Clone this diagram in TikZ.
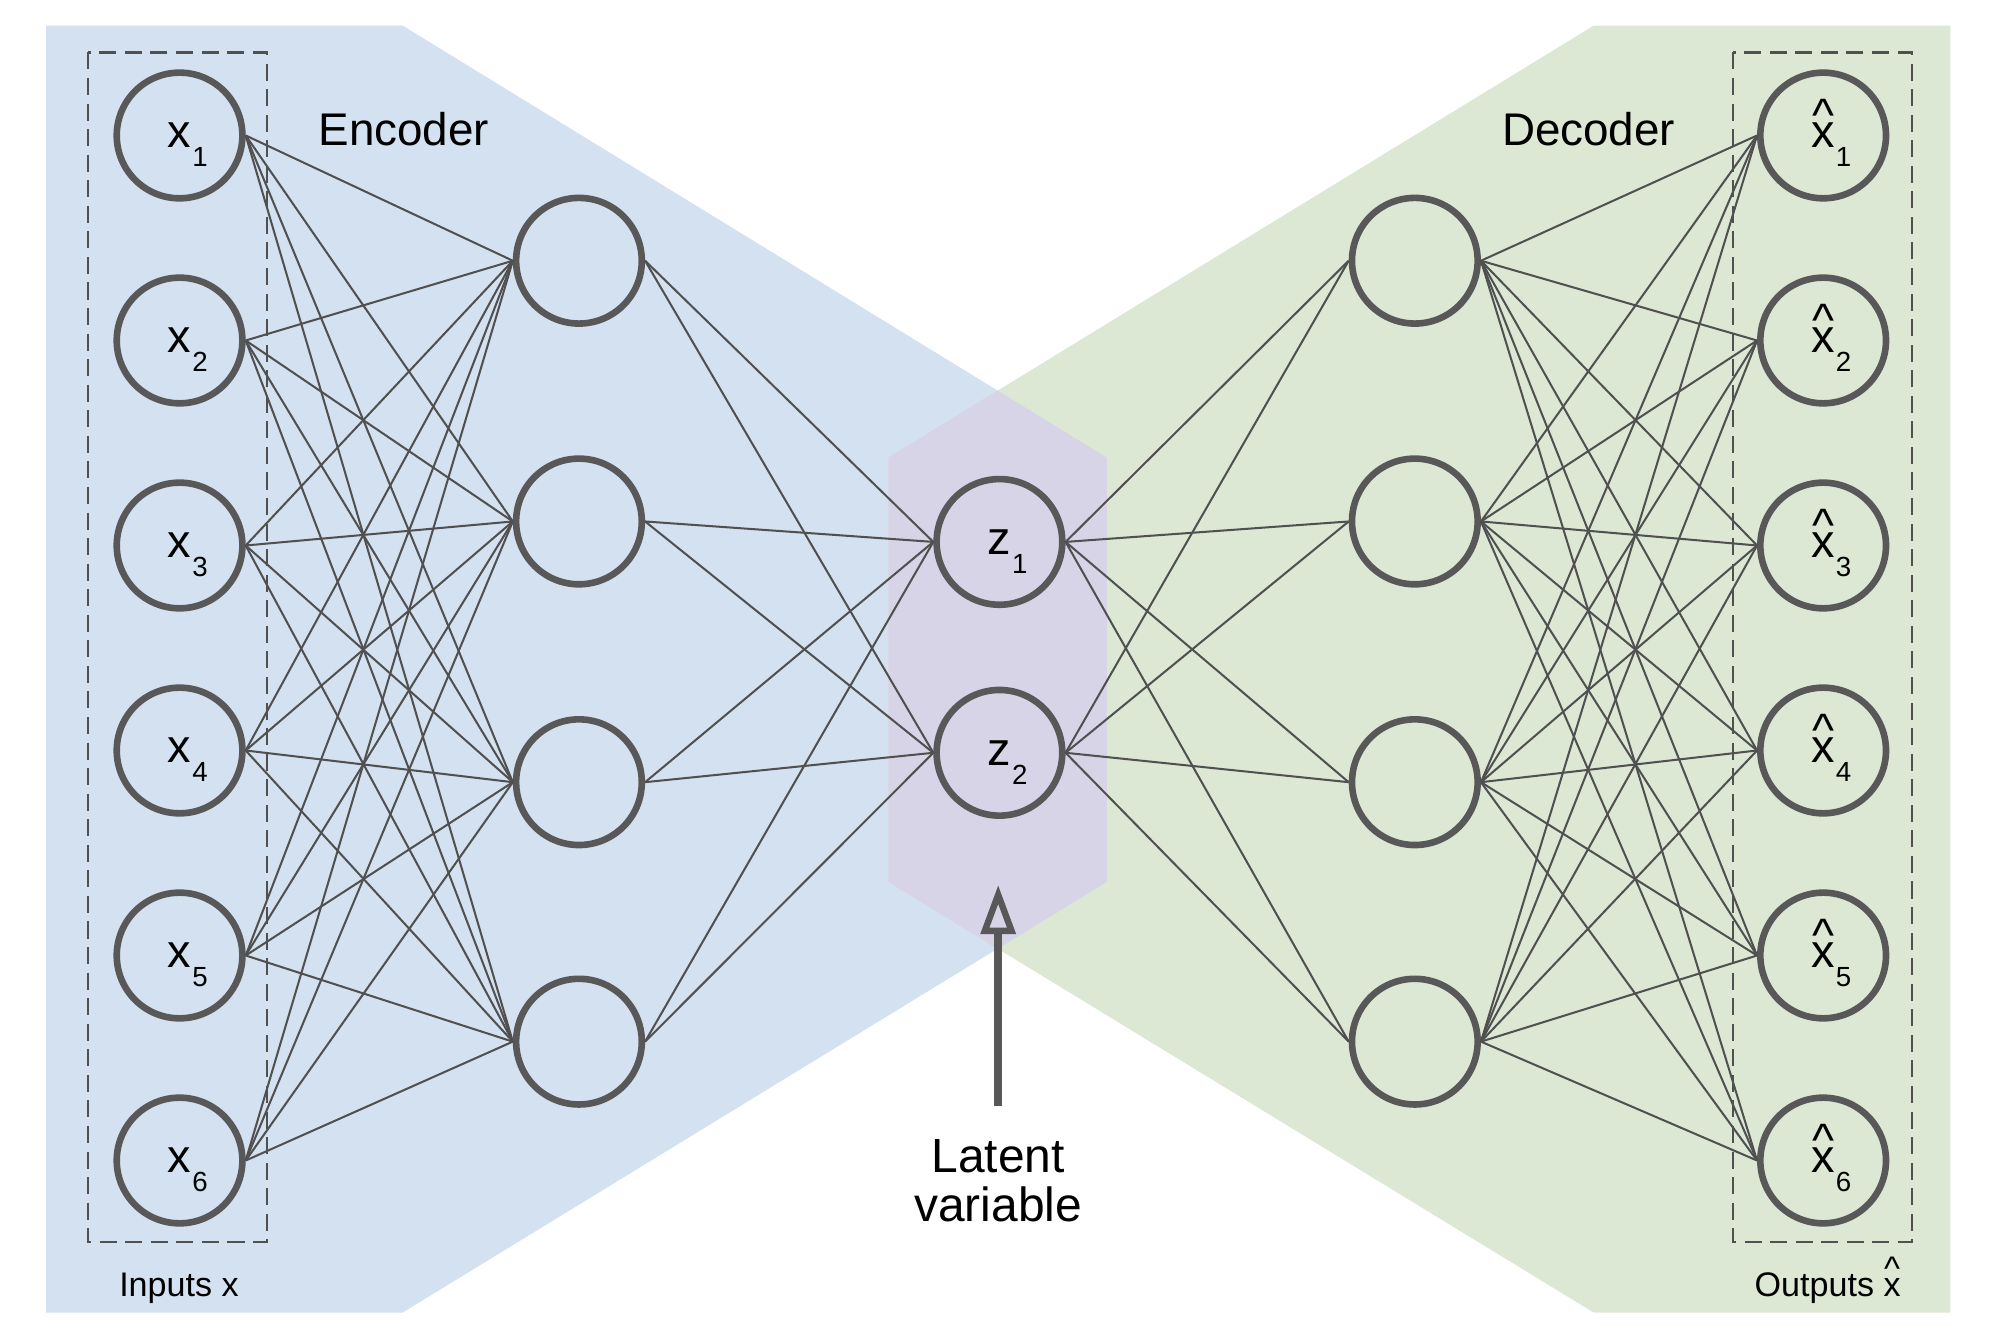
\documentclass[tikz,border=0pt]{standalone}
\usepackage{fontspec}
\setmainfont{Liberation Sans}
\usetikzlibrary{arrows.meta}

\definecolor{encfill}{HTML}{D3E1F0}
\definecolor{decfill}{HTML}{DCE8D4}
\definecolor{latfill}{HTML}{D8D4E8}
\definecolor{wire}{HTML}{505050}
\definecolor{ring}{HTML}{585858}

% a letter with a lowered index that does not change the letter's centring
\newcommand{\idx}[2]{#1\rlap{\kern0.5pt\smash{\raisebox{-8.9pt}{\fontsize{13pt}{13pt}\selectfont #2}}}}
% an x with a caret set above it
\newcommand{\hatx}{\leavevmode\rlap{\makebox[0.5em]{\smash{\raisebox{7.8pt}{\textasciicircum}}}}x}

\tikzset{
  neuron/.style={circle, draw=ring, line width=3.1pt, minimum size=59pt,
    inner sep=0pt, font=\fontsize{22pt}{22pt}\selectfont},
  link/.style={draw=wire, line width=0.95pt},
  groupbox/.style={draw=wire, dash pattern=on 8pt off 4pt, line width=1.1pt},
  title/.style={font=\fontsize{21.5pt}{21.5pt}\selectfont},
  caption/.style={font=\fontsize{16pt}{16pt}\selectfont},
}

\begin{document}
\begin{tikzpicture}[x=0.6pt,y=-0.6pt]
\useasboundingbox (0,0) rectangle (1568,1048);

% shaded encoder, decoder and their overlap
\fill[encfill] (36,20) -- (315,20) -- (866,358) -- (866,690) -- (315,1027) -- (36,1027) -- cycle;
\fill[decfill] (1526,20) -- (1247,20) -- (695,358) -- (695,690) -- (1247,1027) -- (1526,1027) -- cycle;
\fill[latfill] (695,358) -- (780.5,305.6) -- (866,358) -- (866,690) -- (780.5,742.4) -- (695,690) -- cycle;

% dashed frames round the input and output layers
\draw[groupbox] (69,41) rectangle (209,972);
\draw[groupbox] (1356,41) rectangle (1496,972);

% layers
\foreach \i/\y in {1/106,2/266.4,3/426.8,4/587.2,5/747.6,6/908} {
  \node[neuron] (in\i) at (140.5,\y) {\idx{x}{\i}};
  \node[neuron] (out\i) at (1426.5,\y) {\idx{\hatx}{\i}};
}
\foreach \j/\y in {1/204,2/408,3/612,4/815} {
  \node[neuron] (h\j) at (453,\y) {};
  \node[neuron] (d\j) at (1107,\y) {};
}
\node[neuron] (z1) at (782,424) {\idx{z}{1}};
\node[neuron] (z2) at (782,589) {\idx{z}{2}};

% connections
\foreach \i in {1,...,6} \foreach \j in {1,...,4} {
  \draw[link] (in\i.east) -- (h\j.west);
  \draw[link] (d\j.east) -- (out\i.west);
}
\foreach \j in {1,...,4} \foreach \k in {1,2} {
  \draw[link] (h\j.east) -- (z\k.west);
  \draw[link] (z\k.east) -- (d\j.west);
}

% titles and captions
\node[title] (enc) at (316,101) {Encoder};
\node[title] (dec) at (1243,101) {Decoder};
\node[caption] (inlbl) at (140,1008) {Inputs x};
\node[caption] (outlbl) at (1430,1008) {Outputs \hatx};

\node[align=center, anchor=north, inner sep=0pt,
  font=\fontsize{22.5pt}{23pt}\selectfont] (latent) at (781,891) {Latent\\variable};
\coordinate (tip) at (781,692.5);
\draw[ring, line width=3.7pt, -{Triangle[open, length=23pt, width=16pt, line width=3pt]}]
  ([yshift=15.3pt]latent.north) -- (tip);
\end{tikzpicture}
\end{document}
